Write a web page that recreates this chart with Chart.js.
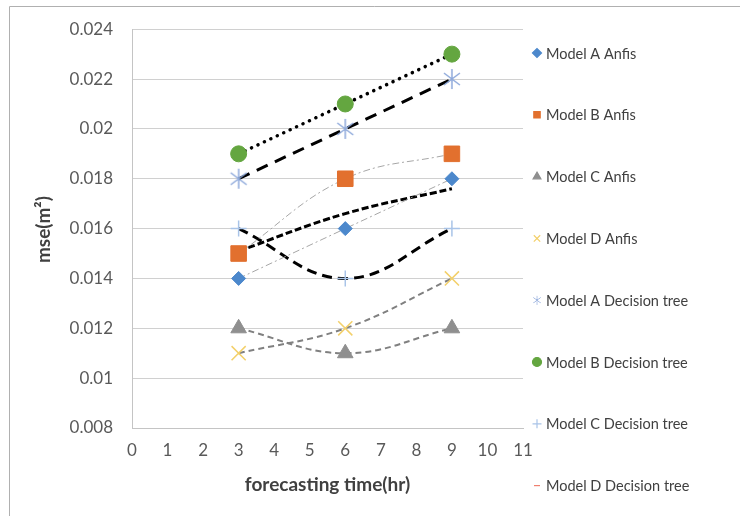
<!DOCTYPE html>
<html>
<head>
<meta charset="utf-8">
<script src="https://cdn.jsdelivr.net/npm/chart.js@4.4.1/dist/chart.umd.min.js"></script>
<style>
  html, body { margin: 0; padding: 0; background: #fff; }
  #wrap { width: 740px; height: 516px; position: relative; }
</style>
</head>
<body>
<div id="wrap"><canvas id="mse-chart" width="740" height="516"></canvas></div>
<script>
const hours = [3, 6, 9];
const xTicks = [0, 1, 2, 3, 4, 5, 6, 7, 8, 9, 10, 11];
const yTicks = [0.008, 0.01, 0.012, 0.014, 0.016, 0.018, 0.02, 0.022, 0.024];

const modelAAnfis = [0.014, 0.016, 0.018];
const modelBAnfis = [0.015, 0.018, 0.019];
const modelCAnfis = [0.012, 0.011, 0.012];
const modelDAnfis = [0.011, 0.012, 0.014];
const modelADecision = [0.018, 0.020, 0.022];
const modelBDecision = [0.019, 0.021, 0.023];
const modelCDecision = [0.016, 0.014, 0.016];
const modelDDecision = [0.015, 0.016, 0.018];
// trend line drawn by the original next to model D decision tree
const modelDTrend = [0.0151, 0.0166, 0.0176];

const toPoints = (vals) => vals.map((v, i) => ({ x: hours[i], y: v }));

// six-armed asterisk like the excel marker
function asterisk(size, color, lw) {
  const c = document.createElement('canvas');
  c.width = size; c.height = size;
  const g = c.getContext('2d');
  const m = size / 2, r = size / 2 - 1;
  g.strokeStyle = color;
  g.lineWidth = lw;
  g.beginPath();
  g.moveTo(m, m - r); g.lineTo(m, m + r);
  const dx = r * Math.sin(Math.PI / 3.4), dy = r * Math.cos(Math.PI / 3.4);
  g.moveTo(m - dx, m - dy); g.lineTo(m + dx, m + dy);
  g.moveTo(m - dx, m + dy); g.lineTo(m + dx, m - dy);
  g.stroke();
  return c;
}
const starMark = asterisk(22, '#8EA9DB', 1.5);

const series = [
  { label: 'Model A Anfis', data: modelAAnfis, style: 'rectRot', radius: 7, color: '#4C88CC',
    line: '#a6a6a6', width: 1, dash: [7, 3, 2, 3], tension: 0 },
  { label: 'Model B Anfis', data: modelBAnfis, style: 'rect', radius: 11, color: '#E2702E',
    line: '#a6a6a6', width: 1, dash: [7, 3, 2, 3], tension: 0.4 },
  { label: 'Model C Anfis', data: modelCAnfis, style: 'triangle', radius: 9, color: '#8f8f8f',
    line: '#808080', width: 2, dash: [6, 4], tension: 0.4 },
  { label: 'Model D Anfis', data: modelDAnfis, style: 'crossRot', radius: 10, color: '#F3D06A',
    line: '#808080', width: 2, dash: [6, 4], tension: 0.4 },
  { label: 'Model A Decision tree', data: modelADecision, style: starMark, radius: 10, color: '#8EA9DB',
    line: '#000', width: 3, dash: [12, 8], tension: 0 },
  { label: 'Model B Decision tree', data: modelBDecision, style: 'circle', radius: 8, color: '#64A640',
    line: '#000', width: 3.5, dash: [0.1, 7], tension: 0, cap: 'round' },
  { label: 'Model C Decision tree', data: modelCDecision, style: 'cross', radius: 8, color: '#A9C4E8',
    line: '#000', width: 3, dash: [10, 6], tension: 0.4 },
  { label: 'Model D Decision tree', data: modelDDecision, style: 'line', radius: 4, color: '#F08070',
    line: 'transparent', width: 0, dash: [], tension: 0 }
];

const datasets = series.map(s => ({
  label: s.label,
  data: toPoints(s.data),
  showLine: s.width > 0,
  borderColor: s.line,
  borderWidth: s.width,
  borderDash: s.dash,
  borderCapStyle: s.cap || 'butt',
  tension: s.tension,
  pointStyle: s.style,
  pointRadius: s.radius,
  pointHoverRadius: s.radius,
  pointBackgroundColor: s.color,
  pointBorderColor: s.color,
  pointBorderWidth: (typeof s.style !== 'string' || s.style === 'crossRot' || s.style === 'cross' || s.style === 'line') ? 1.5 : 1
}));

datasets.push({
  label: 'trend',
  data: toPoints(modelDTrend),
  showLine: true,
  borderColor: '#000',
  borderWidth: 3,
  borderDash: [7, 3],
  tension: 0.4,
  pointRadius: 0
});

const frame = {
  id: 'frame',
  beforeDraw(chart) {
    const ctx = chart.ctx;
    ctx.save();
    ctx.strokeStyle = '#b0b0b0';
    ctx.lineWidth = 1;
    ctx.beginPath();
    ctx.moveTo(9.5, 516);
    ctx.lineTo(9.5, 6.5);
    ctx.lineTo(740, 6.5);
    ctx.stroke();
    ctx.restore();
  },
  afterDraw(chart) {
    // y axis title
    const ctx = chart.ctx;
    const area = chart.chartArea;
    ctx.save();
    ctx.translate(44, (area.top + area.bottom) / 2 + 1);
    ctx.rotate(-Math.PI / 2);
    ctx.font = 'bold 19px Lato';
    ctx.fillStyle = '#404040';
    ctx.textAlign = 'center';
    ctx.textBaseline = 'middle';
    ctx.fillText('mse(m²)', 0, 0);
    ctx.restore();
  }
};

const sideLegend = {
  id: 'sideLegend',
  afterDraw(chart) {
    const ctx = chart.ctx;
    ctx.save();
    ctx.font = '14.5px Lato';
    ctx.textBaseline = 'middle';
    series.forEach((s, i) => {
      const y = 53 + i * 61.8;
      ctx.fillStyle = s.color;
      ctx.strokeStyle = s.color;
      ctx.lineWidth = 1.2;
      if (typeof s.style === 'string') {
        Chart.helpers.drawPoint(ctx, { pointStyle: s.style, radius: s.style === 'line' ? 3 : 4.5, rotation: 0, borderWidth: 1.2 }, 537, y);
      } else {
        ctx.drawImage(s.style, 532, y - 5, 10, 10);
      }
      ctx.fillStyle = '#404040';
      ctx.fillText(s.label, 546, y + 1);
    });
    ctx.restore();
  }
};

const config = {
  type: 'scatter',
  data: { datasets },
  options: {
    responsive: false,
    animation: false,
    layout: { padding: { top: 28, right: 217, bottom: 0, left: 0 } },
    plugins: {
      legend: { display: false },
      tooltip: { enabled: false }
    },
    scales: {
      x: {
        type: 'linear',
        min: 0,
        max: 11,
        afterBuildTicks: (s) => { s.ticks = xTicks.map(v => ({ value: v })); },
        afterFit: (s) => { s.height = 88; },
        grid: { display: false, drawTicks: false },
        border: { display: true, color: '#c4c4c4' },
        ticks: { color: '#595959', font: { family: 'Lato', size: 17 }, padding: 12, maxRotation: 0 },
        title: {
          display: true,
          text: 'forecasting time(hr)',
          color: '#404040',
          font: { family: 'Lato', size: 19, weight: 'bold' },
          padding: { top: 0, bottom: 20 }
        }
      },
      y: {
        min: 0.008,
        max: 0.024,
        afterBuildTicks: (s) => { s.ticks = yTicks.map(v => ({ value: v })); },
        afterFit: (s) => { s.width = 132; },
        grid: { color: '#d0d0d0', drawTicks: false },
        border: { display: true, color: '#c4c4c4' },
        ticks: {
          color: '#595959',
          font: { family: 'Lato', size: 17 },
          padding: 19,
          callback: (v) => String(Number(v.toFixed(3)))
        }
      }
    }
  },
  plugins: [frame, sideLegend]
};

const mseChart = new Chart(document.getElementById('mse-chart'), config);
</script>
</body>
</html>
